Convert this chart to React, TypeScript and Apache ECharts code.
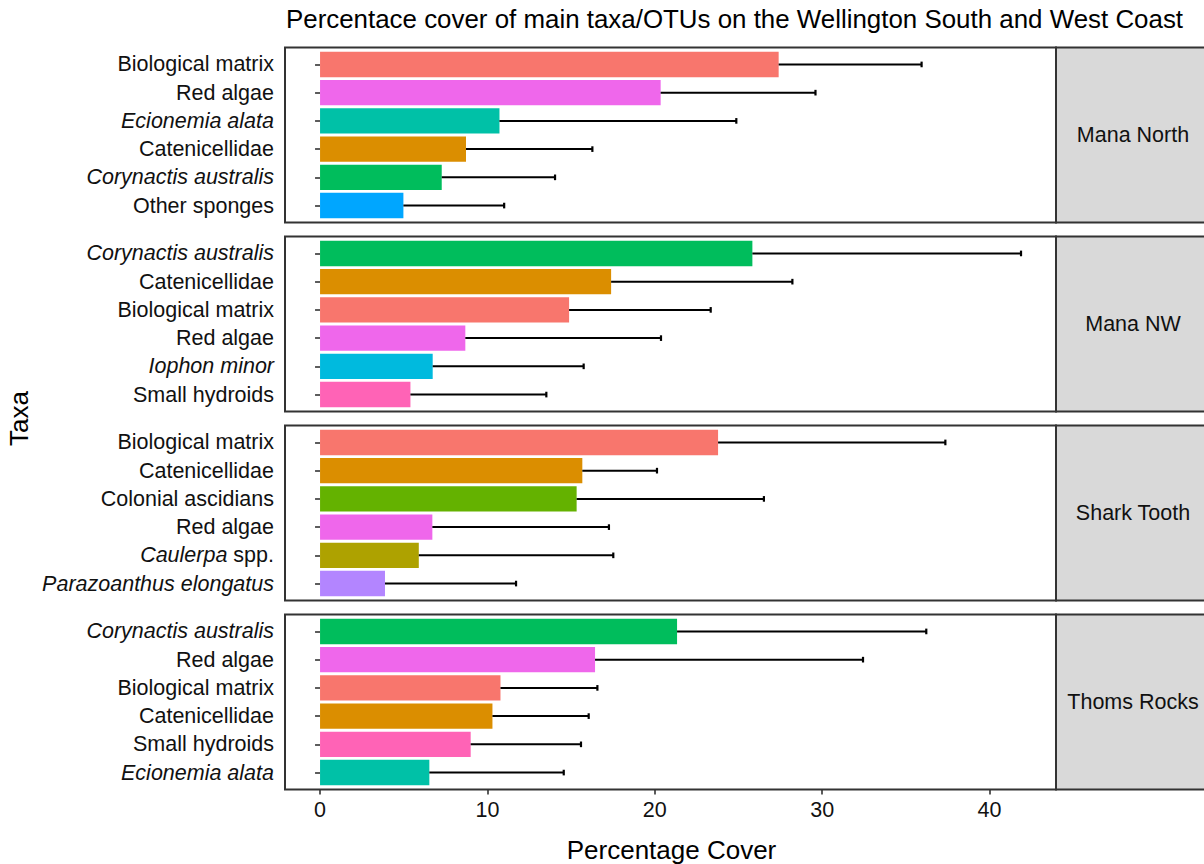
import React, { useEffect, useRef } from "react";
import * as echarts from "echarts";

// ---- data ----
const sites = ["Mana North", "Mana NW", "Shark Tooth", "Thoms Rocks"];

const manaNorthTaxa = ["Biological matrix", "Red algae", "Ecionemia alata", "Catenicellidae", "Corynactis australis", "Other sponges"];
const manaNorthMean = [27.4, 20.35, 10.72, 8.72, 7.27, 4.98];
const manaNorthUpper = [35.94, 29.6, 24.87, 16.27, 14.04, 11.0];

const manaNWTaxa = ["Corynactis australis", "Catenicellidae", "Biological matrix", "Red algae", "Iophon minor", "Small hydroids"];
const manaNWMean = [25.83, 17.39, 14.88, 8.68, 6.73, 5.4];
const manaNWUpper = [41.88, 28.22, 23.34, 20.37, 15.75, 13.52];

const sharkToothTaxa = ["Biological matrix", "Catenicellidae", "Colonial ascidians", "Red algae", "Caulerpa spp.", "Parazoanthus elongatus"];
const sharkToothMean = [23.78, 15.67, 15.33, 6.71, 5.9, 3.88];
const sharkToothUpper = [37.36, 20.13, 26.52, 17.26, 17.52, 11.71];

const thomsRocksTaxa = ["Corynactis australis", "Red algae", "Biological matrix", "Catenicellidae", "Small hydroids", "Ecionemia alata"];
const thomsRocksMean = [21.33, 16.43, 10.78, 10.3, 9.0, 6.53];
const thomsRocksUpper = [36.22, 32.44, 16.57, 16.05, 15.59, 14.56];

const allTaxa = [
  "Biological matrix", "Catenicellidae", "Caulerpa spp.", "Colonial ascidians", "Corynactis australis",
  "Ecionemia alata", "Iophon minor", "Other sponges", "Parazoanthus elongatus", "Red algae", "Small hydroids",
];
const taxaColors = [
  "#F8766D", "#DB8E00", "#AEA200", "#64B200", "#00BD5C",
  "#00C1A7", "#00BADE", "#00A6FF", "#B385FF", "#EF67EB", "#FF63B6",
];
const italicTaxa = ["Ecionemia alata", "Corynactis australis", "Iophon minor", "Parazoanthus elongatus"];

const xTicks = [0, 10, 20, 30, 40];
const xMin = -2.094;
const xMax = 43.97;

const titleText = "Percentace cover of main taxa/OTUs on the Wellington South and West Coast";
const xTitle = "Percentage Cover";
const yTitle = "Taxa";

const panels = [
  { taxa: manaNorthTaxa, mean: manaNorthMean, upper: manaNorthUpper },
  { taxa: manaNWTaxa, mean: manaNWMean, upper: manaNWUpper },
  { taxa: sharkToothTaxa, mean: sharkToothMean, upper: sharkToothUpper },
  { taxa: thomsRocksTaxa, mean: thomsRocksMean, upper: thomsRocksUpper },
];

// ---- layout ----
const FONT = "'Liberation Sans', Arial, Helvetica, sans-serif";
const PANEL_LEFT = 285;
const PANEL_RIGHT = 1056;
const PANEL_TOPS = [47.5, 236.5, 425.5, 614.5];
const PANEL_H = 175;
const STEP = PANEL_H / 6.2;
const LABEL_SIZE = 21.5;
const TEXT_COLOR = "#111";

export default function App() {
  const ref = useRef<HTMLDivElement>(null);

  useEffect(() => {
    if (!ref.current) return;
    const chart = echarts.init(ref.current, null, { renderer: "svg" });
    const colorOf = (t: string) => taxaColors[allTaxa.indexOf(t)];

    const grids: any[] = [];
    const xAxes: any[] = [];
    const yAxes: any[] = [];
    const series: any[] = [];
    const graphics: any[] = [];

    panels.forEach((p, i) => {
      const top = PANEL_TOPS[i];
      grids.push({
        left: PANEL_LEFT,
        width: PANEL_RIGHT - PANEL_LEFT,
        top: top + STEP * 0.1,
        height: STEP * 6,
        containLabel: false,
      });
      const isLast = i === panels.length - 1;
      xAxes.push({
        type: "value",
        gridIndex: i,
        min: xMin,
        max: xMax,
        offset: STEP * 0.1,
        splitLine: { show: false },
        axisLine: { show: false },
        axisTick: isLast
          ? { show: true, length: 5, lineStyle: { color: "#333", width: 1.6 }, customValues: xTicks }
          : { show: false },
        axisLabel: isLast
          ? { show: true, customValues: xTicks, fontSize: LABEL_SIZE, color: TEXT_COLOR, fontFamily: FONT, margin: 9 }
          : { show: false },
      });
      yAxes.push({
        type: "category",
        gridIndex: i,
        data: p.taxa,
        inverse: true,
        axisLine: { show: false },
        axisTick: { show: true, interval: 0, alignWithLabel: true, length: 5, lineStyle: { color: "#333", width: 1.6 } },
        axisLabel: {
          interval: 0,
          hideOverlap: false,
          fontSize: LABEL_SIZE,
          color: TEXT_COLOR,
          fontFamily: FONT,
          margin: 11,
          formatter: (v: string) => {
            if (v === "Caulerpa spp.") return "{i|Caulerpa}{n| spp.}";
            if (italicTaxa.includes(v)) return "{i|" + v + "}";
            return v;
          },
          rich: {
            i: { fontStyle: "italic", fontSize: LABEL_SIZE, color: TEXT_COLOR, fontFamily: FONT },
            n: { fontSize: LABEL_SIZE, color: TEXT_COLOR, fontFamily: FONT },
          },
        },
      });
      series.push({
        type: "bar",
        xAxisIndex: i,
        yAxisIndex: i,
        barWidth: "90%",
        data: p.mean.map((v, j) => ({ value: v, itemStyle: { color: colorOf(p.taxa[j]) } })),
        z: 2,
      });
      series.push({
        type: "custom",
        xAxisIndex: i,
        yAxisIndex: i,
        z: 3,
        encode: { x: [0, 2], y: 1 },
        data: p.mean.map((v, j) => [v, j, p.upper[j]]),
        renderItem: (params: any, api: any) => {
          const y = api.value(1);
          const a = api.coord([api.value(0), y]);
          const b = api.coord([api.value(2), y]);
          const capH = STEP * 0.1;
          return {
            type: "group",
            children: [
              { type: "line", shape: { x1: a[0], y1: a[1], x2: b[0], y2: b[1] }, style: { stroke: "#000", lineWidth: 2 } },
              { type: "line", shape: { x1: b[0], y1: b[1] - capH, x2: b[0], y2: b[1] + capH }, style: { stroke: "#000", lineWidth: 2.2 } },
            ],
          };
        },
      });

      // panel border
      graphics.push({
        type: "rect",
        shape: { x: PANEL_LEFT, y: top, width: PANEL_RIGHT - PANEL_LEFT, height: PANEL_H },
        style: { fill: "none", stroke: "#333", lineWidth: 2 },
        z: 10,
      });
      // strip
      graphics.push({
        type: "rect",
        shape: { x: PANEL_RIGHT, y: top, width: 160, height: PANEL_H },
        style: { fill: "#D9D9D9", stroke: "#333", lineWidth: 2 },
        z: 10,
      });
      graphics.push({
        type: "text",
        x: 1133,
        y: top + PANEL_H / 2,
        style: {
          text: sites[i],
          fontSize: LABEL_SIZE,
          fontFamily: FONT,
          fill: TEXT_COLOR,
          align: "center",
          verticalAlign: "middle",
        },
        z: 11,
      });
    });

    graphics.push({
      type: "text",
      x: 734.5,
      y: 18.5,
      style: { text: titleText, fontSize: 25.9, fontFamily: FONT, fill: "#000", align: "center", verticalAlign: "middle" },
    });
    graphics.push({
      type: "text",
      x: 671.5,
      y: 850,
      style: { text: xTitle, fontSize: 26, fontFamily: FONT, fill: "#000", align: "center", verticalAlign: "middle" },
    });
    graphics.push({
      type: "text",
      x: 19,
      y: 418.5,
      rotation: Math.PI / 2,
      style: { text: yTitle, fontSize: 26, fontFamily: FONT, fill: "#000", align: "center", verticalAlign: "middle" },
    });

    chart.setOption({
      animation: false,
      backgroundColor: "#fff",
      grid: grids,
      xAxis: xAxes,
      yAxis: yAxes,
      series,
      graphic: graphics,
    });
    return () => chart.dispose();
  }, []);

  return (
    <div
      ref={ref}
      style={{ position: "absolute", left: 0, top: 0, width: 1204, height: 864, background: "#fff" }}
    />
  );
}
